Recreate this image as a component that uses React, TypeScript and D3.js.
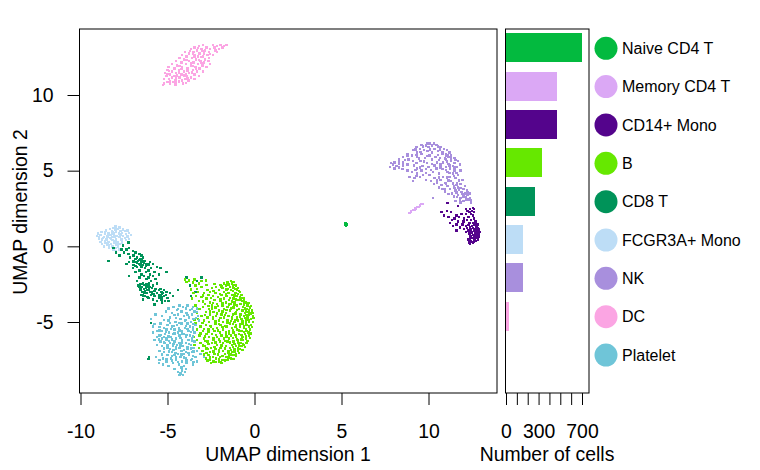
import { useEffect, useRef } from "react";
import * as d3 from "d3";

const cellTypes = ["Naive CD4 T", "Memory CD4 T", "CD14+ Mono", "B", "CD8 T", "FCGR3A+ Mono", "NK", "DC", "Platelet"];
const cellCounts = [697, 474, 474, 336, 263, 156, 156, 25, 0];
const cellColors = ["#03BA3F", "#DBA8F5", "#54048C", "#66E800", "#009359", "#BDDDF6", "#A88FDD", "#FBA5E3", "#6FC5D8"];

const umapXTicks = [-10, -5, 0, 5, 10];
const umapYTicks = [-5, 0, 5, 10];
const countTicks = [0, 100, 200, 300, 400, 500, 600, 700];
const countLabels = [0, 300, 700];

// each row is [y, x, x, x, ...]
const naiveRows = [[1.55, 5.2, 5.25], [1.45, 5.2, 5.28], [1.38, 5.25]];
const memoryRows = [
  [2.8, 9.7, 9.6], [2.7, 9.5], [2.6, 9.35, 9.45], [2.5, 9.25], [2.4, 9.1, 9.2], [2.3, 9.0], [2.2, 8.95, 8.9],
];
const bRows = [
  [-2.2, -4.0, -3.45], [-2.25, -3.75, -2.8], [-2.3, -3.05, -1.35], [-2.35, -3.9, -1.2], [-2.4, -3.55, -1.55],
  [-2.45, -3.2, -1.75, -1.3], [-2.55, -2.75, -1.95, -1.5, -1.15], [-2.6, -3.4, -1.65, -1.05], [-2.7, -3.05, -2.2, -1.4],
  [-2.75, -2.45, -1.85, -1.2, -0.95], [-2.85, -3.65, -1.6, -1.0], [-2.9, -2.7, -2.05, -1.35], [-3.0, -3.25, -2.55, -1.75, -0.85],
  [-3.1, -3.5, -2.9, -2.25, -1.5, -1.1], [-3.2, -2.65, -1.9, -1.3, -0.75], [-3.3, -3.35, -2.4, -1.6, -1.0], [-3.35, -3.05, -2.1, -0.85],
  [-3.45, -3.6, -2.75, -1.75, -1.2, -0.6], [-3.55, -2.3, -1.45, -0.95], [-3.6, -3.2, -1.95, -0.7], [-3.7, -2.55, -1.65, -1.15, -0.5],
  [-3.8, -2.85, -2.15, -1.35, -0.8], [-3.9, -3.4, -2.45, -1.85, -1.0, -0.4], [-4.0, -2.95, -1.55, -0.65], [-4.05, -2.25, -1.2, -0.25],
  [-4.15, -3.15, -2.6, -1.75, -0.9, -0.45], [-4.25, -2.05, -1.4, -0.7, -0.15], [-4.35, -2.8, -2.35, -1.05, -0.35], [-4.4, -3.3, -1.65, -0.55, -0.1],
  [-4.5, -2.55, -1.9, -1.25, -0.8, -0.3], [-4.6, -3.05, -2.2, -1.5, -0.6, -0.1], [-4.7, -2.7, -1.75, -1.0, -0.4], [-4.8, -3.25, -2.4, -1.3, -0.75, -0.2],
  [-4.9, -2.9, -2.05, -1.55, -0.95, -0.5], [-5.0, -2.6, -1.8, -1.15, -0.3, -0.1], [-5.1, -3.4, -2.25, -1.4, -0.7], [-5.2, -2.8, -1.95, -1.05, -0.45, -0.2],
  [-5.3, -3.1, -2.5, -1.6, -0.85, -0.3], [-5.4, -2.15, -1.3, -0.6], [-5.5, -3.3, -2.65, -1.8, -1.0, -0.25], [-5.6, -2.95, -2.3, -1.45, -0.75, -0.45],
  [-5.7, -3.45, -2.0, -1.2, -0.35], [-5.8, -2.75, -2.45, -1.65, -0.9, -0.55], [-5.9, -3.15, -1.9, -1.35, -0.3], [-6.0, -3.5, -2.6, -2.15, -1.05, -0.7],
  [-6.1, -2.9, -1.75, -1.45, -0.5], [-6.2, -3.3, -2.35, -0.95, -0.65], [-6.3, -2.7, -2.0, -1.55, -1.2], [-6.4, -3.1, -2.45, -1.8, -0.8, -0.45],
  [-6.5, -3.45, -2.15, -1.3, -0.6], [-6.6, -2.85, -1.65, -1.05, -0.75], [-6.7, -3.2, -2.5, -1.95, -1.4], [-6.8, -2.7, -2.25, -1.15, -0.85],
  [-6.9, -3.0, -1.8, -1.5, -0.95], [-7.0, -2.55, -2.05, -1.3], [-7.1, -2.9, -2.3, -1.7, -1.05], [-7.2, -2.65, -1.45, -1.2],
  [-7.3, -2.4, -2.0, -1.6], [-7.4, -2.8, -2.2, -1.35], [-7.5, -2.55, -1.85, -1.55], [-7.6, -2.35, -2.05], [-7.7, -2.5, -1.9],
];
const bExtraRows = [
  [-2.5, -2.3, -1.45], [-2.65, -1.9, -1.25], [-2.8, -3.3, -1.55, -1.1], [-2.95, -2.35, -1.25, -0.9], [-3.15, -2.0, -1.65, -0.95], [-3.25, -2.95, -1.15],
  [-3.4, -2.5, -1.4, -0.75], [-3.5, -1.95, -1.05, -0.8], [-3.65, -2.95, -1.3, -0.6], [-3.75, -2.4, -1.85, -0.35], [-3.85, -1.45, -1.15, -0.6], [-3.95, -2.65, -2.1, -0.2],
  [-4.1, -2.45, -1.35, -0.55], [-4.2, -1.6, -1.0, -0.3], [-4.3, -2.55, -1.85, -0.5], [-4.45, -2.15, -1.1, -0.2], [-4.55, -2.85, -1.7, -0.45], [-4.65, -2.4, -1.3, -0.85],
  [-4.75, -1.95, -0.55, -0.05], [-4.85, -3.45, -1.1, -0.35], [-4.95, -2.25, -1.35, -0.7], [-5.05, -3.0, -1.55, -0.5], [-5.15, -2.05, -1.25, -0.85], [-5.25, -2.55, -1.7, -0.6],
  [-5.35, -1.85, -1.1, -0.15], [-5.45, -2.9, -2.4, -0.5], [-5.55, -2.1, -1.25, -0.9], [-5.65, -2.65, -1.65, -0.6], [-5.75, -3.1, -1.45, -0.2], [-5.85, -2.2, -1.1, -0.75],
  [-5.95, -2.85, -1.6, -0.5], [-6.05, -2.35, -1.25, -0.25], [-6.15, -2.05, -1.0, -0.75], [-6.25, -2.85, -1.7, -0.4], [-6.35, -2.25, -1.4, -0.95], [-6.45, -2.65, -1.15, -0.65],
  [-6.55, -2.95, -1.9, -0.9], [-6.65, -2.3, -1.25, -0.55], [-6.75, -2.75, -1.7, -0.95], [-6.85, -2.05, -1.35, -0.7], [-6.95, -2.35, -1.15], [-7.05, -2.75, -1.5, -0.9],
  [-7.15, -2.1, -1.35], [-7.25, -2.9, -1.85, -1.05], [-7.35, -2.55, -1.5], [-7.45, -2.05, -1.2], [-7.55, -2.7, -1.7], [-7.65, -2.2, -1.95],
];
const cd8Rows = [
  [0.25, -7.25], [0.05, -7.55], [-0.1, -8.1, -7.2], [-0.2, -7.65, -7.35], [-0.3, -7.0], [-0.4, -7.95, -7.5, -6.85], [-0.5, -7.25, -6.6],
  [-0.6, -7.75, -6.95, -6.5], [-0.75, -7.15, -6.75, -6.4], [-0.85, -6.85, -6.55], [-0.95, -8.4, -7.0, -6.7, -6.3], [-1.05, -7.2, -6.85, -6.5, -6.0],
  [-1.15, -7.35, -6.65, -6.2, -5.85], [-1.25, -6.95, -6.4, -6.05], [-1.35, -6.75, -6.5, -5.6], [-1.45, -7.0, -6.3, -5.95, -5.4], [-1.6, -6.6, -6.1],
  [-1.7, -6.85, -6.25, -5.75, -5.05], [-1.85, -6.5, -6.0, -5.5], [-1.95, -7.2, -6.35, -5.85], [-2.05, -6.6, -6.1, -3.05, -3.9], [-2.15, -6.2, -5.7],
  [-2.3, -6.75, -5.95, -3.3], [-2.45, -6.4, -6.05, -5.6], [-2.6, -6.7, -6.25, -5.85, -3.7], [-2.7, -6.5, -6.0], [-2.8, -6.35, -5.7, -5.4], [-2.9, -6.15, -5.5, -5.2, -4.4],
  [-3.0, -6.45, -6.0, -5.35, -5.05, -3.4], [-3.1, -6.2, -5.6, -5.25, -4.85], [-3.2, -6.5, -5.95, -5.4, -5.1], [-3.3, -6.3, -5.75, -5.2, -4.7, -3.65],
  [-3.4, -6.1, -5.5, -5.0], [-3.5, -6.4, -5.85, -5.35], [-3.6, -5.6, -5.15, -4.95], [-3.7, -5.3], [-3.85, -5.75], [-5.05, -5.95], [-7.35, -6.05], [-7.45, -6.1],
  // denser clumps
  [-0.9, -6.6, -6.45], [-1.0, -6.95, -6.4], [-1.1, -6.75, -6.35], [-1.2, -6.55, -6.1], [-1.3, -6.85, -6.25], [-2.5, -6.55, -6.2], [-2.55, -6.35, -6.05],
  [-2.65, -6.6, -6.15], [-2.75, -6.25, -5.9], [-2.85, -6.55, -6.05], [-2.95, -6.3, -5.75], [-3.05, -6.35, -5.9], [-3.15, -5.8, -5.3], [-3.25, -6.4, -5.5], [-3.35, -6.15, -5.35],
];
const fcgrRows = [
  [1.3, -8.0], [1.25, -7.75], [1.15, -8.3, -7.85], [1.1, -8.0, -7.55], [1.05, -8.55, -7.3], [1.0, -8.2, -7.7, -7.45], [0.95, -8.8, -7.95], [0.9, -8.4, -7.6, -7.2],
  [0.85, -9.0, -8.1, -7.8], [0.8, -8.6, -7.4], [0.75, -8.85, -8.25, -7.1], [0.7, -9.05, -7.9, -7.55], [0.65, -8.45, -8.05, -7.3], [0.6, -8.95, -7.75],
  [0.55, -8.7, -8.3, -7.45], [0.5, -8.95, -7.95, -7.2], [0.45, -8.5, -7.65], [0.4, -8.75, -8.15, -7.4], [0.3, -8.85, -8.4, -7.85], [0.25, -8.6, -8.05, -7.6],
  [0.15, -8.75, -8.25, -7.75], [0.1, -8.45, -7.95], [0.0, -8.65, -8.15, -7.85], [-0.1, -8.35, -8.0], [-0.2, -8.1, -7.75], [-0.3, -7.95],
  [1.2, -8.1], [0.92, -8.6, -8.15], [0.78, -8.4, -7.7], [0.62, -8.65, -8.2], [0.48, -8.75, -8.25], [0.35, -8.6, -8.0], [0.2, -8.45, -7.9], [0.05, -8.35],
];
const nkRows = [
  [6.8, 10.1, 9.95, 10.3], [6.7, 9.6, 10.45], [6.65, 9.85, 10.2], [6.55, 9.3, 10.0, 10.7], [6.45, 9.5, 10.35, 10.9], [6.35, 9.1, 9.75, 11.05], [6.3, 9.95, 10.55],
  [6.2, 9.35, 10.2, 11.2], [6.1, 8.8, 9.6, 10.8, 11.0], [6.0, 9.05, 10.05, 11.3], [5.9, 8.55, 9.35, 10.4, 11.15], [5.85, 9.8, 10.65, 11.5], [5.75, 8.3, 8.85, 10.2, 11.0],
  [5.65, 9.1, 9.55, 11.3, 11.7], [5.55, 8.05, 8.55, 10.5, 10.85], [5.5, 7.85, 9.3, 9.9, 11.5], [5.45, 8.3, 10.2, 11.15], [5.4, 7.95, 8.8, 10.7, 11.8], [5.3, 8.15, 9.65, 11.4],
  [5.25, 7.8, 10.0, 11.0, 11.65], [5.15, 8.05, 9.35, 10.45, 11.25], [5.1, 8.5, 9.85, 10.8], [5.0, 8.8, 9.6, 11.5, 11.85], [4.9, 9.05, 10.25, 11.1], [4.8, 9.35, 10.6, 11.4],
  [4.7, 9.7, 10.05, 11.7], [4.6, 8.9, 9.5, 10.85, 11.2], [4.5, 9.2, 10.35, 11.55], [4.4, 9.85, 10.7, 11.95], [4.3, 9.1, 10.15, 11.3], [4.2, 10.5, 10.95, 11.65], [4.1, 10.3, 11.85],
  [4.0, 11.1, 11.45, 12.1], [3.9, 10.6, 11.7], [3.8, 10.8, 11.25, 12.0], [3.7, 11.55, 12.2], [3.6, 10.95, 11.9], [3.5, 11.35, 12.1, 12.4], [3.4, 11.7, 12.25], [3.3, 11.45, 12.0],
  [3.2, 10.25, 11.85, 12.4], [3.1, 12.15, 12.3], [3.0, 11.55, 12.0], [2.9, 11.85, 12.45],
  // denser band along the arc
  [6.6, 9.7, 10.55], [6.4, 9.25, 10.1, 10.65], [6.25, 9.55, 10.8], [6.05, 9.3, 10.55, 11.1], [5.95, 8.8, 9.9, 11.0], [5.8, 9.45, 10.95, 11.3], [5.7, 8.65, 10.6, 11.55],
  [5.6, 8.3, 9.75, 11.05], [5.35, 8.55, 9.15, 10.35, 11.2], [5.2, 8.3, 9.5, 10.7, 11.5], [5.05, 9.25, 10.15, 11.0], [4.85, 9.85, 11.2, 11.6], [4.65, 9.3, 11.45], [4.55, 10.6, 11.05],
  [4.35, 10.5, 11.15, 11.75], [4.15, 11.0, 11.4], [4.05, 10.75, 11.6], [3.85, 11.5, 11.85], [3.75, 10.95, 11.75], [3.55, 11.6, 12.25], [3.45, 11.15, 11.95], [3.25, 11.65, 12.15], [3.05, 11.8, 12.45],
];
const cd14Rows = [
  [2.85, 11.1], [2.65, 11.7], [2.55, 12.55], [2.45, 12.15, 12.4, 12.6], [2.35, 11.05, 12.25, 12.5], [2.25, 10.75, 11.3, 12.35, 12.6], [2.15, 11.9, 12.15, 12.45],
  [2.05, 10.9, 11.6, 12.55], [1.95, 11.15, 11.75, 12.3], [1.85, 11.5, 12.05, 12.6], [1.75, 11.35, 12.2, 12.45], [1.65, 11.7, 12.0, 12.7], [1.55, 11.25, 12.35, 12.55],
  [1.45, 11.6, 11.95, 12.7, 12.85], [1.35, 11.4, 12.15, 12.5], [1.25, 11.8, 12.4, 12.75], [1.15, 12.05, 12.6, 12.9], [1.05, 11.6, 12.3, 12.8], [0.95, 12.15, 12.5, 12.95],
  [0.85, 12.35, 12.7, 12.9], [0.75, 12.55, 12.8], [0.65, 12.4, 12.65, 12.9], [0.55, 12.5, 12.75], [0.45, 12.3, 12.6, 12.85], [0.35, 12.45, 12.7], [0.25, 12.35, 12.55], [0.15, 12.4],
  [1.4, 12.3, 12.6], [1.2, 12.2, 12.55, 12.85], [1.1, 12.45, 12.7], [1.0, 12.35, 12.65, 12.9], [0.9, 12.5, 12.8], [0.7, 12.45, 12.75], [0.5, 12.4, 12.65], [0.3, 12.6, 12.5],
];
const dcRows = [
  [13.3, -2.95, -2.4, -1.95, -1.6], [13.25, -3.2, -2.15, -1.75], [13.15, -3.45, -2.75, -2.3, -1.85], [13.05, -3.65, -3.05, -2.55, -2.05], [12.95, -3.3, -2.85, -2.25],
  [12.85, -4.0, -3.5, -2.6, -2.15], [12.75, -3.75, -3.15, -2.9], [12.65, -4.15, -3.45, -2.7, -2.4], [12.55, -3.9, -3.25, -2.95], [12.45, -4.3, -3.6, -2.6],
  [12.35, -4.05, -3.35, -2.85], [12.25, -4.5, -3.75, -3.1, -2.65], [12.15, -4.2, -3.5, -2.9], [12.05, -4.75, -3.95, -3.25, -2.55], [11.95, -4.45, -3.65, -3.0],
  [11.85, -4.95, -4.15, -3.4, -2.75], [11.75, -4.6, -3.85, -3.15], [11.65, -5.0, -4.35, -3.55], [11.55, -4.75, -4.05, -3.3, -2.95], [11.45, -5.15, -4.5, -3.75],
  [11.35, -4.85, -4.2, -3.45], [11.25, -5.05, -4.6, -3.9, -3.2], [11.15, -4.75, -4.3, -3.65], [11.05, -5.2, -4.9, -4.0, -3.45], [10.95, -4.55, -4.15, -3.8],
  [10.85, -5.0, -4.7, -4.35], [10.75, -5.2, -4.85, -4.1], [10.65, -5.25, -4.55],
  [13.1, -3.25, -2.8], [12.9, -3.7, -3.0], [12.7, -3.55, -2.55], [12.5, -3.45, -3.05], [12.3, -3.9, -3.2], [12.1, -3.65, -3.05], [11.9, -4.3, -3.55], [11.7, -4.2, -3.35],
  [11.5, -4.35, -3.6], [11.3, -4.45, -4.05], [11.1, -4.5, -3.85], [10.9, -4.85, -4.35], [10.8, -4.55, -3.95], [11.6, -4.9, -3.85], [11.4, -5.0, -3.95],
];
const plateletRows = [
  [-3.9, -4.3, -3.85], [-4.0, -4.65, -4.1, -3.55], [-4.1, -4.95, -3.95, -3.3], [-4.2, -4.45, -3.7], [-4.3, -5.1, -4.2, -3.45], [-4.4, -4.75, -3.9],
  [-4.5, -5.7, -4.4, -3.6], [-4.6, -5.3, -4.05, -3.25], [-4.7, -4.85, -3.75], [-4.8, -5.95, -4.25, -3.5], [-4.9, -4.95, -4.0, -3.2], [-5.0, -4.55, -3.65],
  [-5.1, -5.4, -4.2, -3.85], [-5.2, -5.0, -4.45, -3.4], [-5.3, -5.85, -4.75, -3.7], [-5.4, -5.2, -4.35, -4.0], [-5.5, -5.05, -4.6, -3.55], [-5.6, -5.6, -5.3, -4.2, -3.8],
  [-5.7, -5.85, -4.9, -4.4, -3.45], [-5.8, -5.15, -4.7, -4.05], [-5.9, -5.45, -4.3, -3.7], [-6.0, -5.6, -5.2, -4.8, -3.95], [-6.1, -5.3, -4.5, -3.6], [-6.2, -5.75, -5.05, -4.15, -3.8],
  [-6.3, -5.4, -4.6, -3.45], [-6.4, -5.15, -4.85, -4.3, -3.95], [-6.5, -5.6, -4.45, -3.65], [-6.6, -5.3, -4.7, -4.1], [-6.7, -5.0, -4.3, -3.5], [-6.8, -4.85, -4.5, -3.85],
  [-6.9, -5.45, -4.2, -3.3], [-7.0, -5.2, -4.75, -3.95, -3.6], [-7.1, -4.4, -4.05, -3.1], [-7.2, -5.0, -4.6, -3.75], [-7.3, -5.65, -4.25, -3.4, -2.9], [-7.4, -5.25, -4.8, -3.95],
  [-7.5, -5.45, -4.5, -3.65], [-7.6, -5.05, -4.15, -3.3], [-7.7, -5.5, -4.7, -3.9], [-7.8, -5.25, -4.35, -3.55], [-7.9, -4.95, -4.05], [-8.0, -4.2],
  [-8.1, -4.6, -3.95], [-8.2, -4.15], [-8.3, -4.4, -4.0], [-8.4, -4.25], [-8.5, -4.3, -4.1],
];
const plateletExtraRows = [
  [-4.15, -4.4, -3.6], [-4.35, -4.2, -3.3], [-4.55, -4.6, -3.85], [-4.75, -4.5, -3.35], [-4.85, -5.2, -3.95], [-5.05, -4.85, -4.3], [-5.15, -5.75, -3.5], [-5.25, -4.65, -3.95],
  [-5.35, -5.45, -3.55], [-5.45, -4.8, -3.85], [-5.55, -5.45, -4.3], [-5.65, -5.1, -3.65], [-5.75, -4.6, -4.15], [-5.85, -5.4, -3.9], [-5.95, -4.95, -3.55], [-6.05, -5.05, -4.25],
  [-6.15, -5.5, -4.75], [-6.25, -4.9, -3.6], [-6.35, -5.2, -4.15], [-6.45, -4.65, -3.75], [-6.55, -5.0, -4.25], [-6.65, -4.5, -3.85], [-6.75, -5.2, -3.65], [-6.85, -4.65, -4.05],
  [-6.95, -4.9, -3.5], [-7.05, -4.55, -3.8], [-7.15, -5.3, -4.2], [-7.25, -4.75, -3.55], [-7.35, -4.5, -4.05], [-7.45, -5.05, -3.6], [-7.55, -4.75, -3.9], [-7.65, -4.4, -3.5],
];

// drawing order follows the overlaps in the picture
const clusters = [
  { name: "FCGR3A+ Mono", rows: fcgrRows },
  { name: "CD8 T", rows: cd8Rows },
  { name: "B", rows: bRows.concat(bExtraRows) },
  { name: "Platelet", rows: plateletRows.concat(plateletExtraRows) },
  { name: "NK", rows: nkRows },
  { name: "CD14+ Mono", rows: cd14Rows },
  { name: "DC", rows: dcRows },
  { name: "Memory CD4 T", rows: memoryRows },
  { name: "Naive CD4 T", rows: naiveRows },
];

const FONT = "'Liberation Sans', Arial, sans-serif";
const POINT = 2.4;

const App = () => {
  const svgRef = useRef<SVGSVGElement | null>(null);

  useEffect(() => {
    if (!svgRef.current) return;
    const svg = d3.select(svgRef.current);
    svg.selectAll("*").remove();

    const top = 29;
    const bottom = 393;

    const x = d3.scaleLinear().domain([-10, 10]).range([80.5, 428.5]);
    const y = d3.scaleLinear().domain([-5, 10]).range([322, 95]);
    const color = d3.scaleOrdinal<string, string>().domain(cellTypes).range(cellColors);

    // Scatter panel
    clusters.forEach((c) => {
      const pts = c.rows.flatMap((r) => r.slice(1).map((v) => [v, r[0]]));
      svg
        .append("g")
        .attr("fill", color(c.name))
        .attr("shape-rendering", "crispEdges")
        .selectAll("rect")
        .data(pts)
        .join("rect")
        .attr("x", (d) => x(d[0]) - POINT / 2)
        .attr("y", (d) => y(d[1]) - POINT / 2)
        .attr("width", POINT)
        .attr("height", POINT);
    });

    svg
      .append("rect")
      .attr("x", 79.5)
      .attr("y", top)
      .attr("width", 417.5)
      .attr("height", bottom - top)
      .attr("fill", "none")
      .attr("stroke", "#000");

    const xAxis = svg
      .append("g")
      .attr("transform", `translate(0,${bottom})`)
      .call(d3.axisBottom(x).tickValues(umapXTicks).tickSize(12).tickPadding(19).tickFormat((d) => String(d)));
    xAxis.select(".domain").remove();

    const yAxis = svg
      .append("g")
      .attr("transform", "translate(79.5,0)")
      .call(d3.axisLeft(y).tickValues(umapYTicks).tickSize(12).tickPadding(14).tickFormat((d) => String(d)));
    yAxis.select(".domain").remove();

    svg
      .append("text")
      .attr("x", 288)
      .attr("y", 461)
      .attr("text-anchor", "middle")
      .attr("font-size", 19.4)
      .text("UMAP dimension 1");

    svg
      .append("text")
      .attr("transform", "translate(27,212) rotate(-90)")
      .attr("text-anchor", "middle")
      .attr("font-size", 19.4)
      .text("UMAP dimension 2");

    // Bars panel
    const barX = d3.scaleLinear().domain([0, 700]).range([506, 582]);
    const barY = d3.scaleBand().domain(cellTypes).range([33.3, 369]).paddingInner(0.245).paddingOuter(0);

    svg
      .append("g")
      .attr("shape-rendering", "crispEdges")
      .selectAll("rect")
      .data(cellTypes)
      .join("rect")
      .attr("x", barX(0))
      .attr("y", (d) => barY(d) as number)
      .attr("width", (_, i) => barX(cellCounts[i]) - barX(0))
      .attr("height", barY.bandwidth())
      .attr("fill", (d) => color(d));

    svg
      .append("rect")
      .attr("x", 505.5)
      .attr("y", top)
      .attr("width", 83.5)
      .attr("height", bottom - top)
      .attr("fill", "none")
      .attr("stroke", "#000");

    const barAxis = svg
      .append("g")
      .attr("transform", `translate(0,${bottom})`)
      .call(
        d3
          .axisBottom(barX)
          .tickValues(countTicks)
          .tickSize(12)
          .tickPadding(19)
          .tickFormat((d) => (countLabels.includes(d as number) ? String(d) : ""))
      );
    barAxis.select(".domain").remove();

    svg
      .append("text")
      .attr("x", 547)
      .attr("y", 461)
      .attr("text-anchor", "middle")
      .attr("font-size", 19.4)
      .text("Number of cells");

    svg.selectAll(".tick text").attr("font-size", 19.4).attr("font-family", FONT).attr("fill", "#000");
    svg.selectAll(".tick line").attr("stroke", "#000");

    // Legend
    const legend = svg
      .append("g")
      .selectAll("g")
      .data(cellTypes)
      .join("g")
      .attr("transform", (d) => `translate(606,${(barY(d) as number) + barY.bandwidth() / 2 + 0.5})`);

    legend.append("circle").attr("r", 11.5).attr("fill", (d) => color(d));
    legend
      .append("text")
      .attr("x", 16)
      .attr("dy", "0.35em")
      .attr("font-size", 16)
      .text((d) => d);
  }, []);

  return (
    <svg
      ref={svgRef}
      width={760}
      height={470}
      style={{ position: "absolute", left: 0, top: 0, fontFamily: FONT }}
    />
  );
};

export default App;
